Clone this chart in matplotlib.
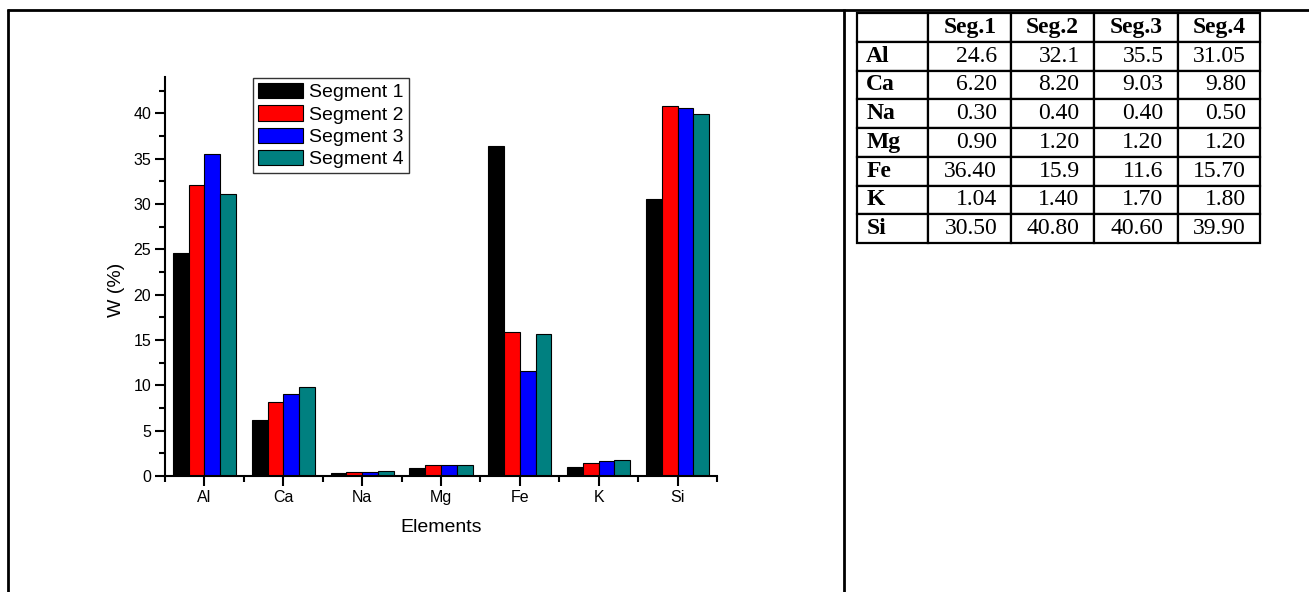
import matplotlib
matplotlib.use("Agg")
import matplotlib.pyplot as plt
import numpy as np
from matplotlib.lines import Line2D

# Elemental composition (weight %) of four segments
elements = ["Al", "Ca", "Na", "Mg", "Fe", "K", "Si"]
segment_names = ["Segment 1", "Segment 2", "Segment 3", "Segment 4"]
seg1 = [24.6, 6.20, 0.30, 0.90, 36.40, 1.04, 30.50]
seg2 = [32.1, 8.20, 0.40, 1.20, 15.9, 1.40, 40.80]
seg3 = [35.5, 9.03, 0.40, 1.20, 11.6, 1.70, 40.60]
seg4 = [31.05, 9.80, 0.50, 1.20, 15.70, 1.80, 39.90]

# Text shown in the table
table_header = ["", "Seg.1", "Seg.2", "Seg.3", "Seg.4"]
table_rows = [
    ["24.6", "32.1", "35.5", "31.05"],
    ["6.20", "8.20", "9.03", "9.80"],
    ["0.30", "0.40", "0.40", "0.50"],
    ["0.90", "1.20", "1.20", "1.20"],
    ["36.40", "15.9", "11.6", "15.70"],
    ["1.04", "1.40", "1.70", "1.80"],
    ["30.50", "40.80", "40.60", "39.90"],
]

colors = ["#000000", "#ff0000", "#0000ff", "#008080"]

W, H = 1309, 592
fig = plt.figure(figsize=(W / 100, H / 100), dpi=100)
fig.patch.set_facecolor("white")

def fx(px):
    return px / W

def fy(py):
    return 1 - py / H

# Page frame: top rule, left rule and the divider between chart and table
frame_kw = dict(color="black", linewidth=2.0, transform=fig.transFigure, solid_capstyle="butt")
fig.add_artist(Line2D([fx(7), 1.0], [fy(10), fy(10)], **frame_kw))
fig.add_artist(Line2D([fx(8), fx(8)], [fy(9), 0.0], **frame_kw))
fig.add_artist(Line2D([fx(843.5), fx(843.5)], [fy(9), 0.0], **frame_kw))

# ---- Bar chart ----
sans = ["Liberation Sans", "DejaVu Sans"]
ax = fig.add_axes([fx(165), fy(476), fx(717) - fx(165), fy(77) - fy(476)])
x = np.arange(len(elements))
bw = 0.2
series = [seg1, seg2, seg3, seg4]
for i, (vals, c, name) in enumerate(zip(series, colors, segment_names)):
    ax.bar(x + (i - 1.5) * bw, vals, width=bw, color=c, edgecolor="black",
           linewidth=0.8, label=name, zorder=2)

ymax = 44
ax.set_xlim(-0.5, len(elements) - 0.5)
ax.set_ylim(0, ymax)
ax.set_yticks(np.arange(0, 41, 5))
ax.set_yticks(np.arange(0, ymax, 2.5), minor=True)
ax.set_xticks(x)
ax.set_xticks(np.arange(-0.5, len(elements), 1.0), minor=True)
ax.set_xticklabels(elements)
for sp in ["top", "right"]:
    ax.spines[sp].set_visible(False)
for sp in ["left", "bottom"]:
    ax.spines[sp].set_linewidth(1.5)
ax.tick_params(axis="both", which="major", direction="out", length=7, width=1.5,
               labelsize=11.5, pad=3)
ax.tick_params(axis="both", which="minor", direction="out", length=4, width=1.5)
for lbl in ax.get_xticklabels() + ax.get_yticklabels():
    lbl.set_fontfamily(sans)
ax.set_xlabel("Elements", fontsize=14, family=sans, labelpad=10)
ax.set_ylabel("W (%)", fontsize=14, family=sans)
ax.yaxis.set_label_coords(-0.073, 20.5 / ymax)

leg = ax.legend(loc="upper left", bbox_to_anchor=(fx(253), fy(78)),
                bbox_transform=fig.transFigure, prop={"family": sans, "size": 14},
                fancybox=False, shadow=False, frameon=True, edgecolor="black",
                handlelength=2.3, handleheight=0.85, labelspacing=0.2,
                handletextpad=0.35, borderpad=0.25, borderaxespad=0.0)
leg.get_frame().set_linewidth(1.0)

# ---- Table ----
tax = fig.add_axes([fx(857), fy(243), fx(1260) - fx(857), fy(13) - fy(243)])
tax.axis("off")
cell_text = [table_header] + [[el] + row for el, row in zip(elements, table_rows)]
col_px = [71, 83, 82, 84, 82]
col_w = [c / sum(col_px) for c in col_px]
tbl = tax.table(cellText=cell_text, colWidths=col_w, bbox=[0, 0, 1, 1], cellLoc="right")
tbl.auto_set_font_size(False)
serif = ["Liberation Serif", "DejaVu Serif"]
for (r, c), cell in tbl.get_celld().items():
    cell.set_linewidth(1.6)
    cell.set_edgecolor("black")
    txt = cell.get_text()
    txt.set_fontfamily(serif)
    txt.set_fontsize(17)
    if r == 0:
        txt.set_fontweight("bold")
        txt.set_horizontalalignment("center")
    elif c == 0:
        txt.set_fontweight("bold")
        txt.set_horizontalalignment("left")
        cell.PAD = 0.13
    else:
        txt.set_horizontalalignment("right")
        cell.PAD = 0.17

fig.savefig("out.png", dpi=100, facecolor="white")
